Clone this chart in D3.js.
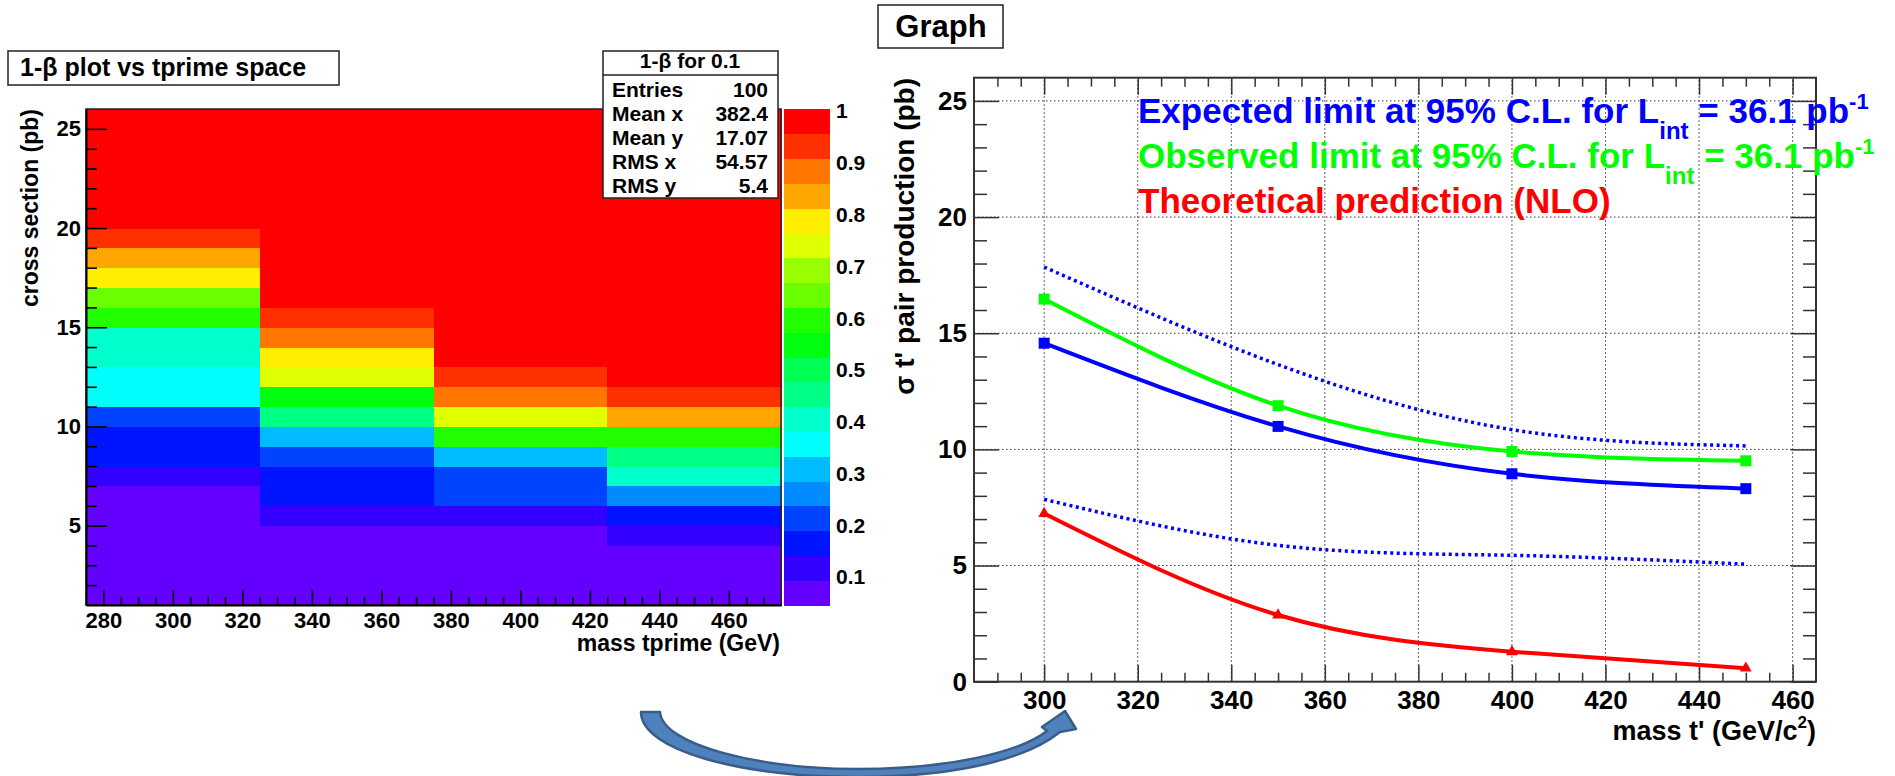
<!DOCTYPE html>
<html><head><meta charset="utf-8">
<script src="https://cdn.jsdelivr.net/npm/d3@7"></script>
<style>
body{margin:0;background:#fff;}
svg{display:block;font-family:"Liberation Sans",Arial,Helvetica,sans-serif;font-weight:bold;}
</style></head><body>
<svg id="c" width="1895" height="776"></svg>
<script>
// ---------------- DATA: left panel (1-beta efficiency map) ----------------
const massEdges = [275, 325, 375, 425, 475];
const xsecEdges = [1,2,3,4,5,6,7,8,9,10,11,12,13,14,15,16,17,18,19,20,21,22,23,24,25,26];
// efficiency per cross-section bin (bottom -> top), one array per mass column
const eff300 = [0.05,0.05,0.05,0.05,0.05,0.05,0.12,0.17,0.17,0.21,0.36,0.36,0.40,0.40,0.60,0.64,0.79,0.83,0.93,1,1,1,1,1,1];
const eff350 = [0.05,0.05,0.05,0.05,0.12,0.17,0.17,0.21,0.31,0.45,0.55,0.74,0.79,0.88,0.93,1,1,1,1,1,1,1,1,1,1];
const eff400 = [0.05,0.05,0.05,0.05,0.12,0.21,0.21,0.31,0.60,0.74,0.88,0.93,1,1,1,1,1,1,1,1,1,1,1,1,1];
const eff450 = [0.05,0.05,0.05,0.12,0.17,0.26,0.40,0.45,0.60,0.83,0.93,1,1,1,1,1,1,1,1,1,1,1,1,1,1];
const effColumns = [eff300, eff350, eff400, eff450];
const zMin = 0.046, zMax = 1.004;
const zTicks = [0.1,0.2,0.3,0.4,0.5,0.6,0.7,0.8,0.9,1];
const xTicksL = [280,300,320,340,360,380,400,420,440,460];
const yTicksL = [5,10,15,20,25];
const statsLabels = ["Entries","Mean x","Mean y","RMS x","RMS y"];
const statsValues = ["100","382.4","17.07","54.57","5.4"];

// ---------------- DATA: right panel (limits graph) ----------------
const massPts  = [300, 350, 400, 450];
const expected = [14.57, 10.99, 8.95, 8.31];
const observed = [16.47, 11.88, 9.91, 9.51];
const theory   = [7.24, 2.87, 1.29, 0.58];
const expUp    = [17.85, 13.65, 10.85, 10.15];
const expDown  = [7.85, 5.87, 5.44, 5.06];
const xTicksR = [300,320,340,360,380,400,420,440,460];
const yTicksR = [0,5,10,15,20,25];

// ROOT "pretty" palette, 20 contour colours
const palette = ["#6300FF","#3300FF","#0014FF","#0044FF","#008BFF","#00BBFF","#00FFFC","#00FFCC","#00FF85","#00FF55",
                 "#00FF0E","#22FF00","#69FF00","#99FF00","#E0FF00","#FFEE00","#FFA700","#FF7700","#FF3000","#FF0000"];

const svg = d3.select("#c");

// ======================= LEFT PANEL =======================
const xL = d3.scaleLinear().domain([275,475]).range([86,781]);
const yL = d3.scaleLinear().domain([1,26]).range([605,109]);
const zCol = d3.scaleQuantize().domain([zMin,zMax]).range(palette);

const cells = [];
effColumns.forEach((col,c)=>col.forEach((v,j)=>cells.push({x0:massEdges[c],x1:massEdges[c+1],y0:xsecEdges[j],y1:xsecEdges[j+1],v})));
svg.append("g").selectAll("rect").data(cells).join("rect")
  .attr("x",d=>xL(d.x0)).attr("y",d=>yL(d.y1))
  .attr("width",d=>xL(d.x1)-xL(d.x0)+0.5).attr("height",d=>yL(d.y0)-yL(d.y1)+0.5)
  .attr("fill",d=>zCol(d.v)).attr("shape-rendering","crispEdges");

svg.append("rect").attr("x",86).attr("y",109).attr("width",695).attr("height",496)
  .attr("fill","none").attr("stroke","#222").attr("stroke-width",1.5);

const minorXL = []; for (let m=280; m<=470; m+=5) if (m%20!==0) minorXL.push(m);
const minorYL = []; for (let m=2; m<=25; m++) if (m%5!==0) minorYL.push(m);

function styleAxis(g, fs){
  g.selectAll("line").attr("stroke","#000").attr("stroke-width",1.6);
  g.selectAll("path.domain").attr("stroke","#000").attr("stroke-width",2);
  g.selectAll("text").attr("fill","#000");
  g.attr("font-family",null).attr("font-size",fs);
}
let g;
g = svg.append("g").attr("transform","translate(0,605)")
  .call(d3.axisBottom(xL).tickValues(xTicksL).tickSize(-15).tickSizeOuter(0).tickPadding(7).tickFormat(d3.format("d")));
styleAxis(g,22);
g = svg.append("g").attr("transform","translate(0,605)")
  .call(d3.axisBottom(xL).tickValues(minorXL).tickSize(-8).tickSizeOuter(0).tickFormat(""));
g.select(".domain").remove(); styleAxis(g,22);
g = svg.append("g").attr("transform","translate(86,0)")
  .call(d3.axisLeft(yL).tickValues(yTicksL).tickSize(-21).tickSizeOuter(0).tickPadding(5).tickFormat(d3.format("d")));
styleAxis(g,22);
g = svg.append("g").attr("transform","translate(86,0)")
  .call(d3.axisLeft(yL).tickValues(minorYL).tickSize(-11).tickSizeOuter(0).tickFormat(""));
g.select(".domain").remove(); styleAxis(g,22);

svg.append("text").attr("x",780).attr("y",651).attr("text-anchor","end").attr("font-size",23).text("mass tprime (GeV)");
svg.append("text").attr("transform","translate(38,109) rotate(-90)").attr("text-anchor","end").attr("font-size",23).text("cross section (pb)");

// palette (colour bar)
const zY = d3.scaleLinear().domain([zMin,zMax]).range([605,109]);
const step = (zMax-zMin)/palette.length;
svg.append("g").selectAll("rect").data(palette).join("rect")
  .attr("x",784).attr("width",46)
  .attr("y",(d,i)=>zY(zMin+(i+1)*step)).attr("height",(d,i)=>zY(zMin+i*step)-zY(zMin+(i+1)*step)+0.5)
  .attr("fill",d=>d).attr("shape-rendering","crispEdges");
svg.append("g").selectAll("text").data(zTicks).join("text")
  .attr("x",836).attr("y",d=>zY(d)).attr("dy","0.35em").attr("font-size",21)
  .text(d=>d===1?"1":d3.format(".1f")(d));

// title box
svg.append("rect").attr("x",8).attr("y",51).attr("width",331).attr("height",34).attr("fill","#fff").attr("stroke","#222").attr("stroke-width",1.5);
svg.append("text").attr("x",20).attr("y",76).attr("font-size",25).text("1-β plot vs tprime space");

// stats box
svg.append("rect").attr("x",603).attr("y",51).attr("width",175).attr("height",147).attr("fill","#fff").attr("stroke","#222").attr("stroke-width",1.5);
svg.append("line").attr("x1",603).attr("x2",778).attr("y1",75).attr("y2",75).attr("stroke","#222").attr("stroke-width",1.5);
svg.append("text").attr("x",690).attr("y",68).attr("text-anchor","middle").attr("font-size",21).text("1-β for 0.1");
statsLabels.forEach((s,i)=>{
  svg.append("text").attr("x",612).attr("y",97+i*24).attr("font-size",21).text(s);
  svg.append("text").attr("x",768).attr("y",97+i*24).attr("text-anchor","end").attr("font-size",21).text(statsValues[i]);
});

// ======================= RIGHT PANEL =======================
const xR = d3.scaleLinear().domain([285,465]).range([974,1816]);
const yR = d3.scaleLinear().domain([0,26]).range([681.7,77.7]);

// grid
svg.append("g").selectAll("line").data(xTicksR).join("line")
  .attr("x1",d=>xR(d)).attr("x2",d=>xR(d)).attr("y1",yR(0)).attr("y2",yR(26))
  .attr("stroke","#333").attr("stroke-width",1).attr("stroke-dasharray","1.5,2.5");
svg.append("g").selectAll("line").data(yTicksR.filter(d=>d>0)).join("line")
  .attr("x1",xR(285)).attr("x2",xR(465)).attr("y1",d=>yR(d)).attr("y2",d=>yR(d))
  .attr("stroke","#333").attr("stroke-width",1).attr("stroke-dasharray","1.5,2.5");

const minorXR = []; for (let m=290; m<=460; m+=5) if (m%20!==0) minorXR.push(m);
const minorYR = []; for (let m=1; m<=25; m++) if (m%5!==0) minorYR.push(m);

function styleR(g, fs){
  g.selectAll("line").attr("stroke","#333").attr("stroke-width",1.5);
  g.selectAll("path.domain").remove();
  g.selectAll("text").attr("fill","#000");
  g.attr("font-family",null).attr("font-size",fs);
}
g = svg.append("g").attr("transform",`translate(0,${yR(0)})`)
  .call(d3.axisBottom(xR).tickValues(xTicksR).tickSize(-17).tickSizeOuter(0).tickPadding(9).tickFormat(d3.format("d")));
styleR(g,26);
g = svg.append("g").attr("transform",`translate(0,${yR(0)})`)
  .call(d3.axisBottom(xR).tickValues(minorXR).tickSize(-9).tickSizeOuter(0).tickFormat(""));
styleR(g,26);
g = svg.append("g").attr("transform",`translate(0,${yR(26)})`)
  .call(d3.axisTop(xR).tickValues(xTicksR).tickSize(-17).tickSizeOuter(0).tickFormat(""));
styleR(g,26);
g = svg.append("g").attr("transform",`translate(0,${yR(26)})`)
  .call(d3.axisTop(xR).tickValues(minorXR).tickSize(-9).tickSizeOuter(0).tickFormat(""));
styleR(g,26);
g = svg.append("g").attr("transform",`translate(${xR(285)},0)`)
  .call(d3.axisLeft(yR).tickValues(yTicksR).tickSize(-25).tickSizeOuter(0).tickPadding(7).tickFormat(d3.format("d")));
styleR(g,26);
g = svg.append("g").attr("transform",`translate(${xR(285)},0)`)
  .call(d3.axisLeft(yR).tickValues(minorYR).tickSize(-13).tickSizeOuter(0).tickFormat(""));
styleR(g,26);
g = svg.append("g").attr("transform",`translate(${xR(465)},0)`)
  .call(d3.axisRight(yR).tickValues(yTicksR).tickSize(-25).tickSizeOuter(0).tickFormat(""));
styleR(g,26);
g = svg.append("g").attr("transform",`translate(${xR(465)},0)`)
  .call(d3.axisRight(yR).tickValues(minorYR).tickSize(-13).tickSizeOuter(0).tickFormat(""));
styleR(g,26);

svg.append("rect").attr("x",xR(285)).attr("y",yR(26)).attr("width",xR(465)-xR(285)).attr("height",yR(0)-yR(26))
  .attr("fill","none").attr("stroke","#333").attr("stroke-width",2);

// curves
const line = d3.line().x(d=>xR(d[0])).y(d=>yR(d[1])).curve(d3.curveNatural);
const pts = arr => massPts.map((m,i)=>[m,arr[i]]);
svg.append("path").attr("d",line(pts(expUp))).attr("fill","none").attr("stroke","#0000FF").attr("stroke-width",3.5).attr("stroke-dasharray","3,3.5");
svg.append("path").attr("d",line(pts(expDown))).attr("fill","none").attr("stroke","#0000FF").attr("stroke-width",3.5).attr("stroke-dasharray","3,3.5");
svg.append("path").attr("d",line(pts(observed))).attr("fill","none").attr("stroke","#00FF00").attr("stroke-width",4);
svg.append("path").attr("d",line(pts(expected))).attr("fill","none").attr("stroke","#0000FF").attr("stroke-width",4);
svg.append("path").attr("d",line(pts(theory))).attr("fill","none").attr("stroke","#FF0000").attr("stroke-width",4);

// markers
[[observed,"#00FF00"],[expected,"#0000FF"]].forEach(([arr,col])=>{
  svg.append("g").selectAll("rect").data(pts(arr)).join("rect")
    .attr("x",d=>xR(d[0])-5.5).attr("y",d=>yR(d[1])-5.5).attr("width",11).attr("height",11).attr("fill",col);
});
svg.append("g").selectAll("path").data(pts(theory)).join("path")
  .attr("transform",d=>`translate(${xR(d[0])},${yR(d[1])})`)
  .attr("d",d3.symbol(d3.symbolTriangle,60)).attr("fill","#FF0000");

// axis titles
const xt = svg.append("text").attr("x",1816).attr("y",740).attr("text-anchor","end").attr("font-size",27);
xt.append("tspan").text("mass t' (GeV/c");
xt.append("tspan").attr("font-size",17).attr("dy",-12).text("2");
xt.append("tspan").attr("dy",12).text(")");
svg.append("text").attr("transform","translate(914,78) rotate(-90)").attr("text-anchor","end").attr("font-size",28).text("σ t' pair production (pb)");

// legend
function lumiText(y,col,label){
  const t = svg.append("text").attr("x",1138).attr("y",y).attr("font-size",35).attr("fill",col);
  t.append("tspan").text(label+" limit at 95% C.L. for L");
  t.append("tspan").attr("font-size",24).attr("dy",16).text("int");
  t.append("tspan").attr("dy",-16).text(" = 36.1 pb");
  t.append("tspan").attr("font-size",22).attr("dy",-14).text("-1");
}
lumiText(123,"#0000FF","Expected");
lumiText(168,"#00FF00","Observed");
svg.append("text").attr("x",1138).attr("y",213).attr("font-size",35).attr("fill","#FF0000").text("Theoretical prediction (NLO)");

// Graph title box
svg.append("rect").attr("x",878).attr("y",5).attr("width",125).attr("height",43).attr("fill","#fff").attr("stroke","#222").attr("stroke-width",1.5);
svg.append("text").attr("x",941).attr("y",37).attr("text-anchor","middle").attr("font-size",31).text("Graph");

// curved connecting arrow (annotation)
svg.append("path")
  .attr("d","M641,712 L660,712 C662,745 760,769 857,769 C950,769 1020,752 1047,731 L1042,727 L1065,711 L1076,729 L1060,732 C1020,764 940,777 857,777 C740,777 641,750 641,712 Z")
  .attr("fill","#4F81BD").attr("stroke","#385D8A").attr("stroke-width",2.5).attr("stroke-linejoin","round");
</script>
</body></html>
